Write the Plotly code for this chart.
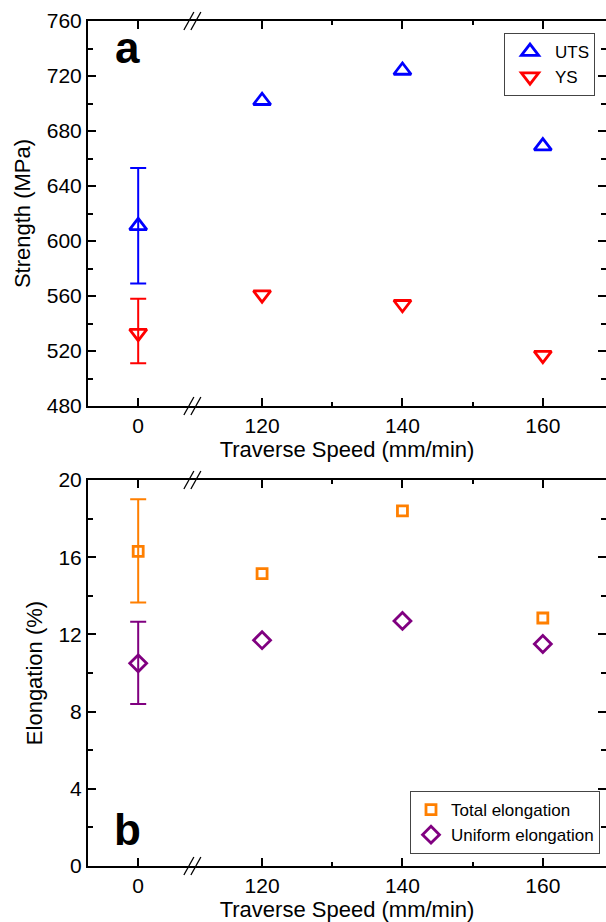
import plotly.graph_objects as go

# ---- data ----
speeds = [0, 120, 140, 160]
speed_labels = ["0", "120", "140", "160"]

uts = [611, 702, 724, 669]
uts_err_plus = [42, None, None, None]
uts_err_minus = [42, None, None, None]

ys = [533, 561, 554, 517]
ys_err_plus = [25, None, None, None]
ys_err_minus = [22, None, None, None]

total_el = [16.3, 15.15, 18.4, 12.85]
total_err_plus = [2.7, None, None, None]
total_err_minus = [2.65, None, None, None]

uniform_el = [10.5, 11.7, 12.7, 11.5]
uniform_err_plus = [2.15, None, None, None]
uniform_err_minus = [2.1, None, None, None]

# broken axis: value 0 is drawn just left of the break
ZERO_POS = 102.35
BREAK_POS = 110.0


def to_axis(v):
    return ZERO_POS + v if v < 100 else v


xpos = [to_axis(v) for v in speeds]

FONT = "Liberation Sans, Arial, sans-serif"
BLUE = "#0000FF"
RED = "#FF0000"
ORANGE = "#FF7F00"
PURPLE = "#800080"

fig = go.Figure()


def add_series(yvals, eplus, eminus, name, symbol, size, color, xa, ya, leg):
    fig.add_trace(go.Scatter(x=xpos, y=yvals, mode="markers", name=name,
                             marker=dict(symbol=symbol, size=size, color=color,
                                         line=dict(width=2.8, color=color)),
                             xaxis=xa, yaxis=ya, legend=leg))
    idx = [i for i, e in enumerate(eplus) if e is not None]
    fig.add_trace(go.Scatter(x=[xpos[i] for i in idx], y=[yvals[i] for i in idx],
                             mode="markers", showlegend=False, hoverinfo="skip",
                             marker=dict(size=1, color="rgba(0,0,0,0)"),
                             error_y=dict(type="data", symmetric=False,
                                          array=[eplus[i] for i in idx],
                                          arrayminus=[eminus[i] for i in idx],
                                          color=color, thickness=2, width=8),
                             xaxis=xa, yaxis=ya, legend=leg))


add_series(uts, uts_err_plus, uts_err_minus, "UTS", "triangle-up-open", 15, BLUE, "x", "y", "legend")
add_series(ys, ys_err_plus, ys_err_minus, "YS", "triangle-down-open", 15, RED, "x", "y", "legend")
add_series(total_el, total_err_plus, total_err_minus, "Total elongation", "square-open", 10,
           ORANGE, "x2", "y2", "legend2")
add_series(uniform_el, uniform_err_plus, uniform_err_minus, "Uniform elongation", "diamond-open", 13,
           PURPLE, "x2", "y2", "legend2")

W, H = 606, 922
x_dom = [88 / W, 1.0]
top_dom = [1 - 406 / H, 1 - 21 / H]
bot_dom = [1 - 866 / H, 1 - 480 / H]

xaxis_common = dict(
    range=[95.2, 169.0], domain=x_dom,
    tickmode="array", tickvals=xpos, ticktext=speed_labels,
    ticks="inside", ticklen=8, tickwidth=2, tickcolor="black",
    showline=True, linewidth=2, linecolor="black", mirror="ticks",
    showgrid=False, zeroline=False,
    tickfont=dict(family=FONT, size=21, color="black"),
    title=dict(text="Traverse Speed (mm/min)", font=dict(family=FONT, size=22, color="black"),
               standoff=2),
    minor=dict(tickmode="array", tickvals=[130, 150], ticks="inside", ticklen=4,
               tickwidth=2, tickcolor="black", showgrid=False),
    automargin=False,
)
yaxis_common = dict(
    ticks="inside", ticklen=8, tickwidth=2, tickcolor="black",
    showline=True, linewidth=2, linecolor="black", mirror="ticks",
    showgrid=False, zeroline=False,
    tickfont=dict(family=FONT, size=21, color="black"),
    automargin=False,
)

fig.update_layout(
    width=W, height=H,
    margin=dict(l=0, r=0, t=0, b=0),
    paper_bgcolor="white", plot_bgcolor="white",
    font=dict(family=FONT, color="black"),
    xaxis=dict(**xaxis_common, anchor="y"),
    xaxis2=dict(**xaxis_common, anchor="y2"),
    yaxis=dict(**yaxis_common, domain=top_dom, anchor="x", range=[480, 760],
               tickmode="linear", tick0=480, dtick=40,
               minor=dict(dtick=20, ticks="inside", ticklen=5, tickwidth=2,
                          tickcolor="black", showgrid=False),
               title=dict(text="Strength (MPa)", font=dict(family=FONT, size=22, color="black"),
                          standoff=10)),
    yaxis2=dict(**yaxis_common, domain=bot_dom, anchor="x2", range=[0, 20],
                tickmode="linear", tick0=0, dtick=4,
                minor=dict(dtick=2, ticks="inside", ticklen=5, tickwidth=2,
                           tickcolor="black", showgrid=False),
                title=dict(text="Elongation (%)", font=dict(family=FONT, size=22, color="black"),
                           standoff=10)),
    legend=dict(x=595 / W, xanchor="right", y=1 - 33 / H, yanchor="top",
                bordercolor="#444444", borderwidth=1, bgcolor="white",
                font=dict(family=FONT, size=17, color="black"),
                tracegroupgap=0, itemwidth=40),
    legend2=dict(x=600 / W, xanchor="right", y=1 - 791 / H, yanchor="top",
                 bordercolor="#444444", borderwidth=1, bgcolor="white",
                 font=dict(family=FONT, size=17, color="black"),
                 tracegroupgap=0, itemwidth=30),
    showlegend=True,
)

# panel labels
for txt, yref, ypos in [("a", "y domain", 0.93), ("b", "y2 domain", 0.095)]:
    fig.add_annotation(text="<b>%s</b>" % txt, xref="x", yref=yref, x=ZERO_POS - 1.5, y=ypos,
                       showarrow=False, xanchor="center", yanchor="middle",
                       font=dict(family=FONT, size=44, color="black"))

# axis break marks "//"
for yref in ["y domain", "y2 domain"]:
    for yanchor in [0, 1]:
        for dx in [-3, 4]:
            fig.add_shape(type="line", xref="x", yref=yref,
                          xsizemode="pixel", xanchor=BREAK_POS, x0=dx - 5, x1=dx + 5,
                          ysizemode="pixel", yanchor=yanchor, y0=-9, y1=9,
                          line=dict(color="black", width=1.3))

fig.write_html("out.html")
